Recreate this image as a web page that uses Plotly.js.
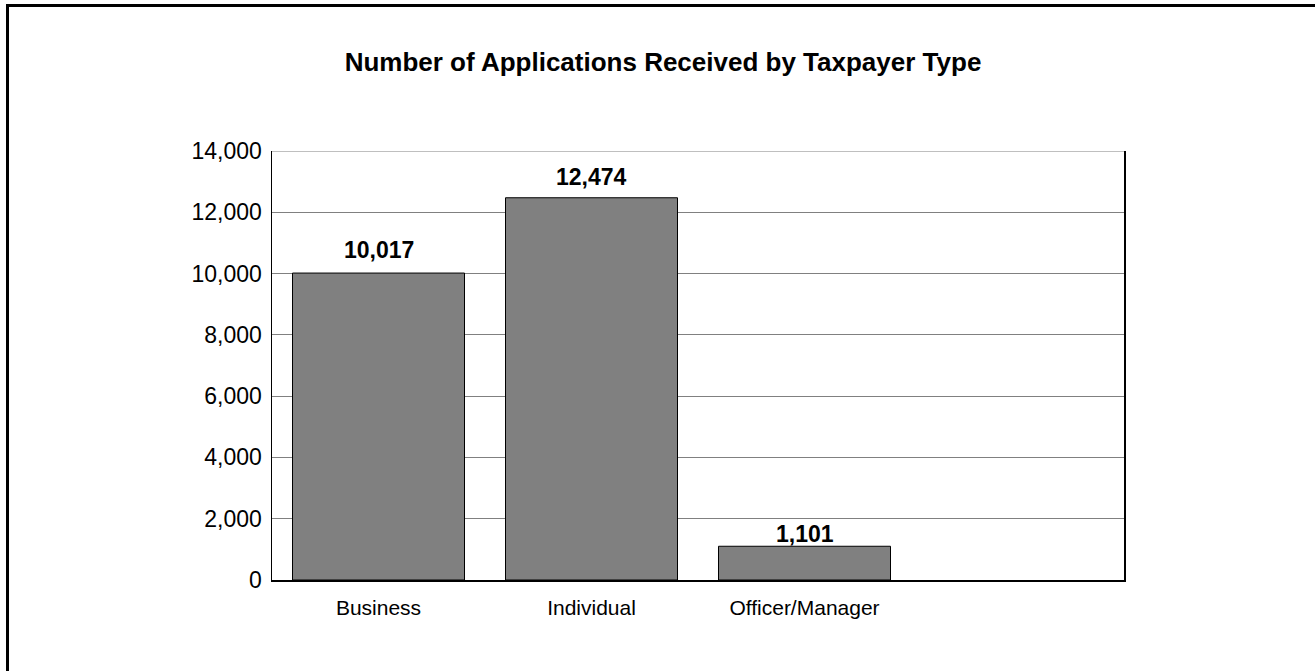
<!DOCTYPE html>
<html>
<head>
<meta charset="utf-8">
<script src="https://cdn.plot.ly/plotly-3.0.1.min.js"></script>
<style>
  html, body { margin: 0; padding: 0; background: #fff; }
  #chart { width: 1315px; height: 671px; }
</style>
</head>
<body>
<div id="chart"></div>
<script>
// ---- data ----
const categories = ["Business", "Individual", "Officer/Manager"];
const applications = [10017, 12474, 1101];
const yTickValues = [0, 2000, 4000, 6000, 8000, 10000, 12000, 14000];
const yTickLabels = ["0", "2,000", "4,000", "6,000", "8,000", "10,000", "12,000", "14,000"];
const chartTitle = "Number of Applications Received by Taxpayer Type";

// ---- styling ----
const FONT = "Liberation Sans, Arial, sans-serif";
const labelShift = [23, 21, 12]; // px above the bar top for each value label

const fmt = v => v.toLocaleString("en-US");
const yMax = yTickValues[yTickValues.length - 1];

const trace = {
  type: "bar",
  x: categories,
  y: applications,
  marker: { color: "#808080", line: { color: "#000000", width: 1 } },
  hoverinfo: "x+y"
};

const annotations = categories.map((c, i) => ({
  x: c,
  y: applications[i],
  xref: "x",
  yref: "y",
  text: fmt(applications[i]),
  showarrow: false,
  yanchor: "middle",
  xanchor: "center",
  yshift: labelShift[i],
  font: { family: FONT, size: 23, color: "#000", weight: "bold" }
}));

const layout = {
  width: 1315,
  height: 671,
  paper_bgcolor: "#ffffff",
  plot_bgcolor: "#ffffff",
  margin: { l: 272, r: 191, t: 151, b: 91, pad: 0 },
  showlegend: false,
  bargap: 0.1925,
  title: {
    text: "<b>" + chartTitle + "</b>",
    font: { family: FONT, size: 26, color: "#000" },
    x: 663 / 1315,
    xref: "container",
    xanchor: "center",
    y: 1 - 62 / 671,
    yref: "container",
    yanchor: "middle"
  },
  xaxis: {
    type: "category",
    range: [-0.5, 3.5],
    showgrid: false,
    zeroline: false,
    showline: true,
    linecolor: "#000",
    linewidth: 1.5,
    mirror: false,
    ticks: "",
    ticklabelstandoff: 8,
    tickfont: { family: FONT, size: 21, color: "#000" },
    fixedrange: true
  },
  yaxis: {
    range: [0, yMax],
    tickvals: yTickValues,
    ticktext: yTickLabels,
    showgrid: true,
    gridcolor: "#808080",
    gridwidth: 1,
    zeroline: false,
    showline: true,
    linecolor: "#000",
    linewidth: 1.5,
    mirror: true,
    ticks: "",
    ticklabelstandoff: 4,
    tickfont: { family: FONT, size: 23, color: "#000" },
    fixedrange: true
  },
  annotations: annotations,
  shapes: [
    {
      type: "line",
      xref: "paper",
      yref: "y",
      x0: 0, x1: 1,
      y0: yMax, y1: yMax,
      line: { color: "#808080", width: 1 },
      layer: "below"
    },
    {
      type: "rect",
      xref: "paper",
      yref: "paper",
      x0: (7.5 - 272) / 852,
      x1: (1330 - 272) / 852,
      y0: (580 - 700) / 429,
      y1: (580 - 5.5) / 429,
      line: { color: "#000", width: 3 },
      fillcolor: "rgba(0,0,0,0)",
      layer: "below"
    }
  ]
};

Plotly.newPlot("chart", [trace], layout, { displayModeBar: false, staticPlot: true });
</script>
</body>
</html>
